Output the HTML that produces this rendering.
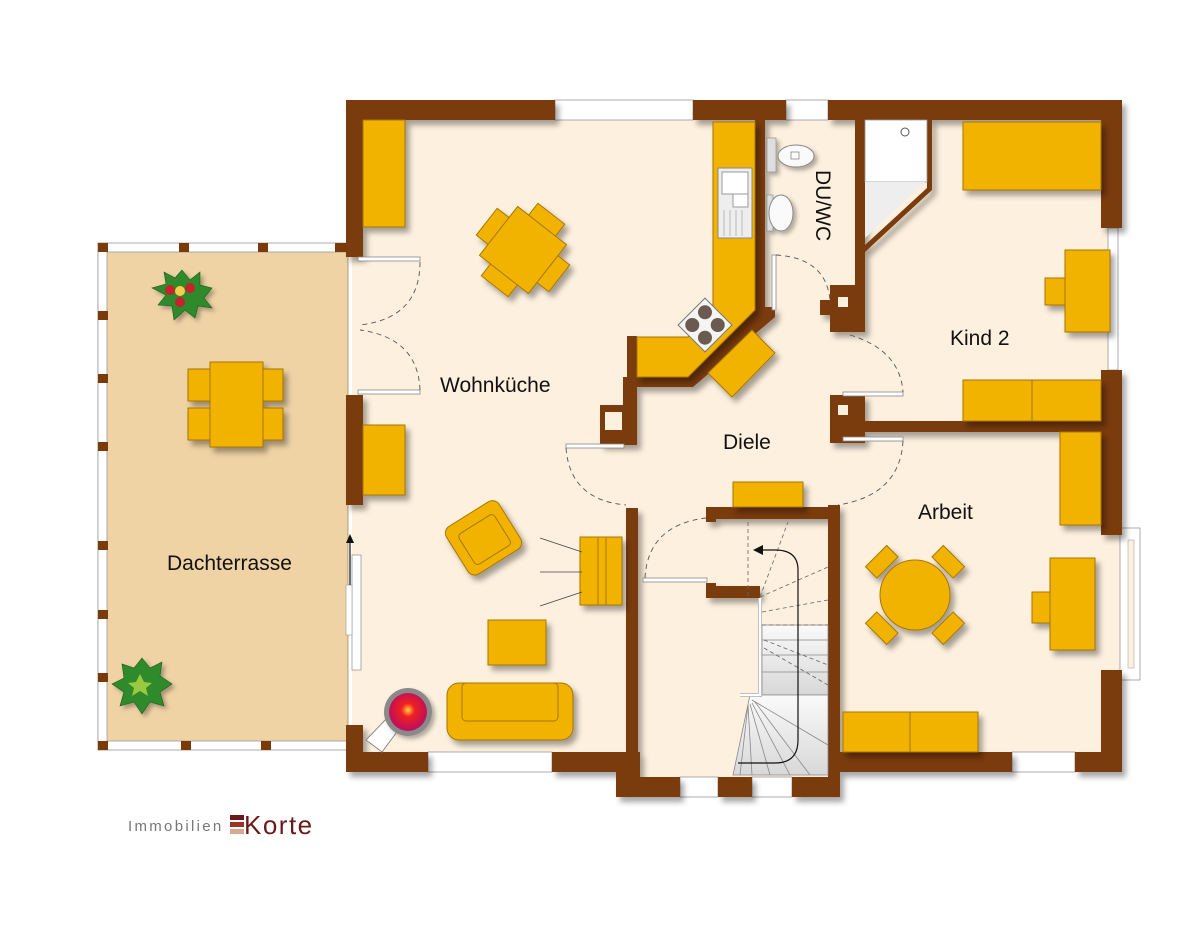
<!DOCTYPE html>
<html><head><meta charset="utf-8"><style>
html,body{margin:0;padding:0;background:#fff;}
svg{display:block;font-family:"Liberation Sans",sans-serif;}
</style></head><body>
<svg width="1200" height="943" viewBox="0 0 1200 943" xmlns="http://www.w3.org/2000/svg">
<defs>
<filter id="sh" x="-20%" y="-20%" width="150%" height="150%"><feDropShadow dx="4" dy="5" stdDeviation="3" flood-color="#000" flood-opacity="0.35"/></filter>
<filter id="shs" x="-20%" y="-20%" width="150%" height="150%"><feDropShadow dx="3" dy="3" stdDeviation="2" flood-color="#000" flood-opacity="0.3"/></filter>
<radialGradient id="fire" cx="0.5" cy="0.45" r="0.5"><stop offset="0" stop-color="#ffd040"/><stop offset="0.35" stop-color="#f02020"/><stop offset="1" stop-color="#c0105a"/></radialGradient>
<linearGradient id="stp" x1="0" y1="0" x2="0" y2="1"><stop offset="0" stop-color="#fafafa"/><stop offset="1" stop-color="#d8d8d8"/></linearGradient>
</defs>

<rect x="98" y="246" width="250" height="500" fill="#efd3a5" stroke="#8a6a40" stroke-width="0.6"/>
<rect x="352" y="108" width="760" height="656" fill="#fdf0de"/>
<rect x="626" y="760" width="210" height="30" fill="#fdf0de"/>
<rect x="1100" y="535" width="30" height="140" fill="#fdf0de"/>

<g fill="#fff" stroke="#999" stroke-width="0.8">
<rect x="98" y="243" width="250" height="9"/>
<rect x="98" y="741" width="250" height="9"/>
<rect x="98" y="243" width="9" height="507"/>
</g>
<g fill="#7a3a0a">
<rect x="98" y="243" width="10" height="9"/><rect x="179" y="243" width="10" height="9"/><rect x="258" y="243" width="10" height="9"/><rect x="335" y="243" width="13" height="9"/>
<rect x="98" y="741" width="10" height="9"/><rect x="181" y="741" width="10" height="9"/><rect x="261" y="741" width="10" height="9"/>
<rect x="98" y="311" width="10" height="9"/><rect x="98" y="374" width="10" height="9"/><rect x="98" y="442" width="10" height="9"/><rect x="98" y="541" width="10" height="9"/><rect x="98" y="610" width="10" height="9"/><rect x="98" y="673" width="10" height="9"/>
</g>

<g fill="#fff" stroke="#999" stroke-width="0.8">
<rect x="555" y="100" width="138" height="20"/>
<rect x="786" y="100" width="42" height="20"/>
<rect x="1108" y="228" width="10" height="142"/>
<rect x="1120" y="528" width="20" height="152"/>
<rect x="428" y="752" width="124" height="20"/>
<rect x="1012" y="752" width="63" height="20"/>
<rect x="680" y="777" width="38" height="20"/>
<rect x="752" y="777" width="40" height="20"/>
<rect x="352" y="555" width="9" height="115"/>
</g>
<rect x="1128" y="540" width="6" height="128" fill="#fdf0de" stroke="#aaa" stroke-width="0.6"/>
<rect x="346" y="585" width="6" height="50" fill="#fff" stroke="#999" stroke-width="0.6"/>

<g fill="#7a3a0a" filter="url(#sh)">
<rect x="346" y="100" width="209" height="20"/>
<rect x="346" y="100" width="17" height="157"/>
<rect x="693" y="100" width="93" height="20"/>
<rect x="828" y="100" width="294" height="20"/>
<rect x="1101" y="100" width="21" height="128"/>
<rect x="1101" y="370" width="21" height="165"/>
<rect x="1101" y="670" width="21" height="102"/>
<rect x="346" y="395" width="17" height="110"/>
<rect x="346" y="725" width="17" height="47"/>
<rect x="346" y="752" width="82" height="20"/>
<rect x="552" y="752" width="88" height="20"/>
<rect x="616" y="752" width="24" height="45"/>
<rect x="616" y="777" width="64" height="20"/>
<rect x="718" y="777" width="34" height="20"/>
<rect x="792" y="777" width="48" height="20"/>
<rect x="626" y="508" width="12" height="289"/>
<rect x="828" y="505" width="12" height="292"/>
<rect x="840" y="752" width="172" height="20"/>
<rect x="1075" y="752" width="47" height="20"/>
<polygon points="706,507 840,507 840,519 716,519 716,522 706,522"/>
<polygon points="706,583 716,583 716,586 760,586 760,598 706,598"/>
<polygon points="755,120 765,120 765,307 775,307 775,317 693,387 637,387 637,410 637,445 600,445 600,405 623,405 623,377 627,377 627,336 637,336 637,377 688,377 755,310"/>
<polygon points="855,120 865,120 865,245 927,188 927,120 932,120 932,190 865,252 865,332 830,332 830,315 820,315 820,300 830,300 830,285 855,285"/>
<rect x="830" y="395" width="35" height="48"/>
<rect x="830" y="421" width="271" height="11"/>
</g>
<rect x="605" y="412" width="17" height="18" fill="#fdf0de"/>
<rect x="838" y="297" width="10" height="10" fill="#fdf0de"/>
<rect x="838" y="405" width="10" height="10" fill="#fdf0de"/>

<rect x="865" y="120" width="62" height="62" fill="#fff" stroke="#999" stroke-width="0.8"/>
<polygon points="865,182 925,182 865,238" fill="#eee"/>
<circle cx="905" cy="132" r="4" fill="none" stroke="#555"/>

<g stroke="#888" stroke-width="0.8">
<rect x="762" y="625" width="66" height="70" fill="url(#stp)"/>
<line x1="762" y1="640" x2="828" y2="640"/><line x1="762" y1="655" x2="828" y2="655"/><line x1="762" y1="672" x2="828" y2="672"/>
<polygon points="750,695 828,695 828,775 733,775" fill="url(#stp)"/>
<line x1="752" y1="700" x2="828" y2="745"/><line x1="755" y1="702" x2="810" y2="775"/><line x1="752" y1="703" x2="790" y2="775"/><line x1="750" y1="704" x2="770" y2="775"/><line x1="748" y1="705" x2="752" y2="775"/><line x1="748" y1="705" x2="740" y2="775"/>
</g>
<polyline points="760,598 760,695 740,695" fill="none" stroke="#aaa" stroke-width="4"/>
<polyline points="760,598 760,695 740,695" fill="none" stroke="#fff" stroke-width="2.5"/>
<g stroke="#666" stroke-width="0.8" stroke-dasharray="4,3" fill="none">
<line x1="748" y1="522" x2="748" y2="597"/><line x1="760" y1="597" x2="788" y2="522"/><line x1="760" y1="597" x2="828" y2="567"/><line x1="762" y1="612" x2="828" y2="600"/><line x1="762" y1="625" x2="828" y2="625"/>
<line x1="764" y1="640" x2="828" y2="665"/><line x1="764" y1="648" x2="828" y2="685"/>
</g>
<path d="M738,763 L775,763 Q798,763 798,740 L798,570 Q798,550 775,550 L760,550" fill="none" stroke="#111" stroke-width="1.2"/>
<polygon points="753,550 763,545 763,555" fill="#111"/>

<g fill="#fff" stroke="#888" stroke-width="0.8">
<rect x="358" y="257" width="62" height="4"/><rect x="358" y="390" width="62" height="4"/>
<rect x="566" y="444" width="58" height="4"/>
<rect x="643" y="578" width="64" height="4"/>
<rect x="772" y="255" width="4" height="55"/>
<rect x="843" y="392" width="60" height="4"/><rect x="843" y="437" width="60" height="4"/>
</g>
<g stroke="#555" stroke-width="0.9" stroke-dasharray="5,4" fill="none">
<path d="M420,262 Q420,318 360,325"/><path d="M420,390 Q418,338 360,330"/>
<path d="M566,448 Q570,500 626,505"/>
<path d="M645,578 Q648,525 706,518"/>
<path d="M776,255 Q826,258 830,300"/>
<path d="M850,335 Q900,350 903,392"/>
<path d="M903,441 Q900,495 838,505"/>
</g>
<line x1="350" y1="585" x2="350" y2="540" stroke="#111" stroke-width="1.2"/><polygon points="350,534 346,543 354,543" fill="#111"/>

<g fill="#f2b300" stroke="#a77700" stroke-width="1" filter="url(#sh)">
<rect x="363" y="120" width="42" height="107"/>
<rect x="363" y="425" width="42" height="70"/>
<polygon points="713,122 755,122 755,310 688,377 637,377 637,337 688,337 713,312"/>
<polygon points="752,330 775,353 732,397 708,373"/>
<g transform="rotate(38 523 250)">
<rect x="506" y="204" width="34" height="16"/><rect x="506" y="280" width="34" height="16"/><rect x="477" y="233" width="16" height="34"/><rect x="553" y="233" width="16" height="34"/>
<rect x="492" y="219" width="62" height="62"/>
</g>
<g transform="rotate(-32 483 537)"><rect x="452" y="510" width="62" height="56" rx="8"/><rect x="462" y="522" width="42" height="36" rx="4"/></g>
<rect x="580" y="537" width="42" height="68"/>
<rect x="488" y="620" width="58" height="45"/>
<rect x="447" y="683" width="126" height="57" rx="12"/>
<rect x="462" y="683" width="96" height="38" rx="4"/>
<rect x="188" y="369" width="22" height="32"/><rect x="188" y="408" width="22" height="32"/>
<rect x="263" y="369" width="20" height="32"/><rect x="263" y="408" width="20" height="32"/>
<rect x="210" y="362" width="53" height="85"/>
<rect x="963" y="122" width="138" height="68"/>
<rect x="1045" y="278" width="20" height="27"/>
<rect x="1065" y="250" width="45" height="82"/>
<rect x="963" y="380" width="69" height="41"/><rect x="1032" y="380" width="69" height="41"/>
<rect x="1060" y="432" width="41" height="93"/>
<rect x="1032" y="592" width="18" height="31"/>
<rect x="1050" y="558" width="45" height="92"/>
<g transform="rotate(45 915 595)">
<rect x="900" y="540" width="30" height="16"/><rect x="900" y="634" width="30" height="16"/><rect x="860" y="580" width="16" height="30"/><rect x="954" y="580" width="16" height="30"/>
</g>
<circle cx="915" cy="595" r="35"/>
<rect x="843" y="712" width="67" height="40"/><rect x="910" y="712" width="68" height="40"/>
<rect x="733" y="482" width="70" height="25"/>
</g>
<g stroke="#444" stroke-width="0.8"><line x1="540" y1="538" x2="582" y2="552"/><line x1="540" y1="572" x2="582" y2="572"/><line x1="540" y1="606" x2="582" y2="592"/></g>
<line x1="598" y1="537" x2="598" y2="605" stroke="#a77700"/><line x1="606" y1="537" x2="606" y2="605" stroke="#a77700"/>

<g transform="rotate(-45 705 325)"><rect x="686" y="306" width="38" height="38" fill="#f4f4f4" stroke="#777"/>
<circle cx="696" cy="316" r="7" fill="#6b5a50"/><circle cx="714" cy="316" r="7" fill="#6b5a50"/><circle cx="696" cy="334" r="7" fill="#6b5a50"/><circle cx="714" cy="334" r="7" fill="#6b5a50"/></g>
<rect x="718" y="168" width="34" height="70" fill="#eee" stroke="#888"/>
<rect x="722" y="172" width="26" height="22" fill="#fff" stroke="#999"/>
<rect x="733" y="194" width="15" height="13" fill="#fff" stroke="#999"/>
<g stroke="#999" stroke-width="0.6"><line x1="724" y1="210" x2="724" y2="236"/><line x1="730" y1="210" x2="730" y2="236"/><line x1="736" y1="210" x2="736" y2="236"/><line x1="742" y1="210" x2="742" y2="236"/></g>

<g filter="url(#shs)">
<rect x="767" y="138" width="9" height="34" fill="#ddd" stroke="#888" stroke-width="0.6"/>
<ellipse cx="796" cy="156" rx="18" ry="11" fill="#fafafa" stroke="#888"/>
<rect x="767" y="195" width="6" height="36" fill="#ddd" stroke="#888" stroke-width="0.6"/>
<ellipse cx="781" cy="213" rx="12" ry="18" fill="#fafafa" stroke="#888"/>
</g>
<rect x="791" y="152" width="8" height="7" fill="none" stroke="#666" stroke-width="0.6"/>

<polygon points="366,740 382,752 402,725 390,715" fill="#fff" stroke="#888"/>
<circle cx="408" cy="712" r="24" fill="#8a8a8a" filter="url(#shs)"/>
<circle cx="408" cy="712" r="19" fill="url(#fire)"/>

<g filter="url(#shs)">
<polygon points="182,270 190,280 200,272 200,285 212,288 204,298 212,308 198,306 195,318 185,310 174,320 172,306 158,305 166,295 152,288 166,284 164,272 175,278" fill="#2e8a2a" stroke="#1a5a18" stroke-width="0.6"/>
<circle cx="170" cy="290" r="5" fill="#c8202a"/><circle cx="190" cy="288" r="5" fill="#c8202a"/><circle cx="180" cy="302" r="5" fill="#c8202a"/><circle cx="180" cy="291" r="5" fill="#f0d050"/>
<polygon points="142,658 150,668 162,662 160,676 172,684 160,692 164,706 150,702 142,714 134,702 120,706 124,692 112,684 124,678 122,664 134,668" fill="#2e8a2a" stroke="#1a5a18" stroke-width="0.6"/>
<polygon points="140,674 144,682 152,683 146,688 148,696 140,691 132,696 134,688 128,683 136,682" fill="#9ac840"/>
</g>

<g fill="#111" font-size="21">
<text x="440" y="392">Wohnküche</text>
<text x="723" y="449">Diele</text>
<text x="950" y="345">Kind 2</text>
<text x="918" y="519">Arbeit</text>
<text x="167" y="570">Dachterrasse</text>
<text transform="translate(816,170) rotate(90)">DU/WC</text>
</g>

<text x="128" y="831" font-size="15" fill="#777" letter-spacing="2.3">Immobilien</text>
<rect x="230" y="815" width="14" height="5" fill="#6b1a1a"/>
<rect x="230" y="822" width="14" height="5" fill="#a0302a"/>
<rect x="230" y="829" width="14" height="5" fill="#d8a890"/>
<text x="244" y="834" font-size="26" fill="#6b1a1a" letter-spacing="1.5">Korte</text>
</svg>
</body></html>
